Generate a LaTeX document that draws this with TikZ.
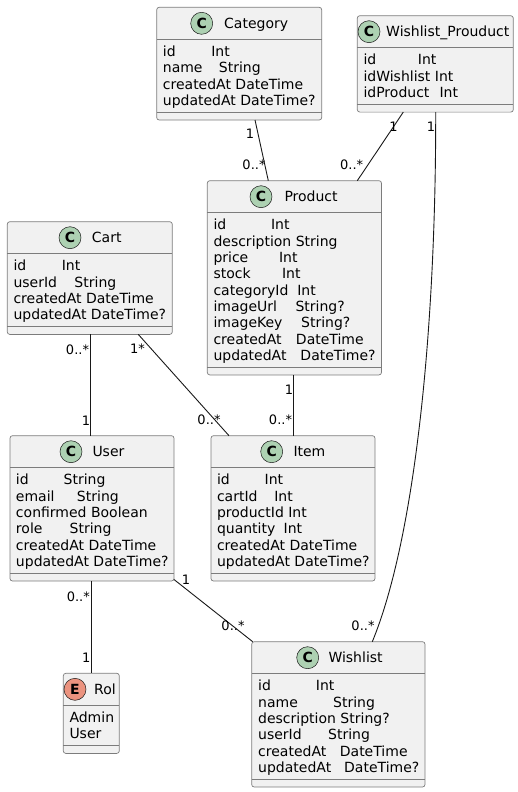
\documentclass[tikz,border=0pt]{standalone}
\usepackage{fontspec}
\setmainfont{DejaVu Sans}
\usetikzlibrary{calc}
\definecolor{boxfill}{HTML}{F1F1F1}
\definecolor{ink}{HTML}{181818}
\definecolor{boxline}{HTML}{7C7C7C}
\definecolor{classspot}{HTML}{ADD1B2}
\definecolor{enumspot}{HTML}{EB937F}
\newcommand\mr[3]{\makebox[#1pt][l]{#2}#3}
\tikzset{
  classbox/.style={draw=boxline, line width=0.7pt, fill=boxfill, rounded corners=2.5pt, inner sep=0pt, outer sep=0pt, anchor=north west},
  sepline/.style={draw=boxline, line width=0.7pt},
  spot/.style={circle, draw=ink, line width=0.5pt, minimum size=22pt, inner sep=0pt, font=\bfseries\fontsize{14}{14}\selectfont},
  member/.style={inner sep=0pt, anchor=base west, font=\fontsize{14}{16.3}\selectfont, text=black},
  assoc/.style={draw=ink, line width=0.9pt},
  mult/.style={inner sep=0pt, font=\fontsize{13}{15}\selectfont, text=black},
}
% name, left, top, right, rows
\newcommand\umlbox[5]{%
  \pgfmathsetmacro\bw{#4-#2}%
  \pgfmathsetmacro\sepb{32+#5*16.3+7.5}%
  \pgfmathsetmacro\bh{\sepb+8}%
  \node[classbox, minimum width=\bw pt, minimum height=\bh pt] (#1) at (#2,#3) {};
  \draw[sepline] ($(#1.north west)+(0,32)$) -- ($(#1.north east)+(0,32)$);
  \draw[sepline] ($(#1.north west)+(0,\sepb)$) -- ($(#1.north east)+(0,\sepb)$);
}
% name, top, spot colour, letter, spot x, title x, title
\newcommand\umlhead[7]{%
  \node[spot, fill=#3] (#1-spot) at (#5,#2+16) {#4};
  \node[member] (#1-title) at (#6,#2+21) {#7};
}
% name, x, first baseline, list
\newcommand\umlrows[4]{%
  \foreach \rowtext [count=\i from 0] in {#4} {
    \node[member] (#1-m\i) at (#2,#3+\i*16.3) {\rowtext};
  }
}
\begin{document}
\begin{tikzpicture}[x=1pt,y=-1pt]
\useasboundingbox (0,0) rectangle (518,792);

% Category
\umlbox{cat}{156.7}{7.3}{321.7}{4}
\umlhead{cat}{7.3}{classspot}{C}{201.7}{224}{Category}
\umlrows{cat}{162.7}{56.5}{\mr{48.4}{id}{Int}, \mr{56}{name}{String}, createdAt DateTime, updatedAt DateTime?}

% Wishlist_Prouduct
\umlbox{wp}{357.3}{15.7}{513.3}{3}
\umlhead{wp}{15.7}{classspot}{C}{369}{386}{Wishlist\_Prouduct}
\umlrows{wp}{363.3}{64.9}{\mr{54.4}{id}{Int}, idWishlist Int, \mr{76}{idProduct}{Int}}

% Product
\umlbox{prod}{207.3}{180.7}{381.5}{9}
\umlhead{prod}{180.7}{classspot}{C}{261}{284.3}{Product}
\umlrows{prod}{213.3}{229.9}{\mr{57.5}{id}{Int}, description String, \mr{65.6}{price}{Int}, \mr{68.5}{stock}{Int}, \mr{83.8}{categoryId}{Int}, \mr{82}{imageUrl}{String?}, \mr{87.7}{imageKey}{String?}, \mr{82.5}{createdAt}{DateTime}, \mr{87}{updatedAt}{DateTime?}}

% Cart
\umlbox{cart}{7.3}{221.7}{172.3}{4}
\umlhead{cart}{221.7}{classspot}{C}{70}{91.7}{Cart}
\umlrows{cart}{13.3}{270.9}{\mr{48.3}{id}{Int}, \mr{61}{userId}{String}, createdAt DateTime, updatedAt DateTime?}

% User
\umlbox{user}{10}{435.7}{174}{6}
\umlhead{user}{435.7}{classspot}{C}{71}{92.3}{User}
\umlrows{user}{15.8}{484.9}{\mr{47.7}{id}{String}, \mr{61}{email}{String}, confirmed Boolean, \mr{53.7}{role}{String}, createdAt DateTime, updatedAt DateTime?}

% Item
\umlbox{item}{211}{435.7}{375}{6}
\umlhead{item}{435.7}{classspot}{C}{271.7}{293.3}{Item}
\umlrows{item}{216.8}{484.9}{\mr{47.7}{id}{Int}, \mr{57.3}{cartId}{Int}, productId Int, \mr{66.7}{quantity}{Int}, createdAt DateTime, updatedAt DateTime?}

% Rol
\umlbox{rol}{63.3}{673.3}{119.3}{2}
\umlhead{rol}{673.3}{enumspot}{E}{75}{94}{Rol}
\umlrows{rol}{69.3}{722.5}{Admin, User}

% Wishlist
\umlbox{wl}{251.7}{641.7}{425}{6}
\umlhead{wl}{641.7}{classspot}{C}{307.7}{328.3}{Wishlist}
\umlrows{wl}{258}{690.9}{\mr{57.7}{id}{Int}, \mr{75}{name}{String}, description String?, \mr{70}{userId}{String}, \mr{81.7}{createdAt}{DateTime}, \mr{86}{updatedAt}{DateTime?}}

% connectors
\draw[assoc] ($(cat.south west)+(98.3,0)$) -- ($(prod.north west)+(61,0)$);
\draw[assoc] ($(wp.south west)+(46,0)$) -- ($(prod.north west)+(150,0)$);
\draw[assoc] ($(wp.south west)+(78.4,0)$) .. controls ($(wp.south west)+(78.7,218)$) and ($(wl.north west)+(163.3,-103.7)$) .. ($(wl.north west)+(120.6,0)$);
\draw[assoc] ($(cart.south west)+(82.7,0)$) -- ($(user.north west)+(80,0)$);
\draw[assoc] ($(cart.south west)+(131,0)$) -- ($(item.north west)+(18,0)$);
\draw[assoc] ($(prod.south west)+(86,0)$) -- ($(item.north west)+(82.3,0)$);
\draw[assoc] ($(user.south west)+(81.3,0)$) -- ($(rol.north west)+(28,0)$);
\draw[assoc] ($(user.south east)+(0,-1.5)$) -- ($(wl.north west)+(1,0)$);

% multiplicities
\node[mult] (m1a) at (250,134) {1};
\node[mult] (m1b) at (254,165) {0..*};
\node[mult] (m2a) at (393.5,126.7) {1};
\node[mult] (m2b) at (351.7,165) {0..*};
\node[mult] (m3a) at (431,126.7) {1};
\node[mult] (m3b) at (363,625.7) {0..*};
\node[mult] (m4a) at (77.5,350) {0..*};
\node[mult] (m4b) at (86,421) {1};
\node[mult] (m5a) at (137.5,349) {1*};
\node[mult] (m5b) at (209,419.5) {0..*};
\node[mult] (m6a) at (289,390) {1};
\node[mult] (m6b) at (280.5,419.5) {0..*};
\node[mult] (m7a) at (78.3,596.7) {0..*};
\node[mult] (m7b) at (86.3,657.7) {1};
\node[mult] (m8a) at (186,580) {1};
\node[mult] (m8b) at (233,626) {0..*};
\end{tikzpicture}
\end{document}
